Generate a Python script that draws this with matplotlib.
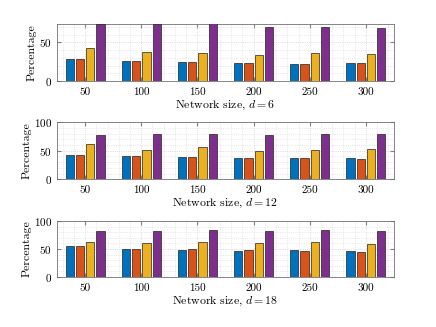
import numpy as np
import matplotlib
matplotlib.use('Agg')
from matplotlib import pyplot as plot
from matplotlib.ticker import MultipleLocator

plot.rcParams['font.family'] = 'serif'
plot.rcParams['font.serif'] = ['cmr10', 'DejaVu Serif']
plot.rcParams['mathtext.fontset'] = 'cm'
plot.rcParams['axes.formatter.use_mathtext'] = True

sizes = ['50', '100', '150', '200', '250', '300']
degrees = [6, 12, 18]

# d = 6
s1_d6 = [28.8, 25.8, 24.5, 22.8, 22.4, 22.8]
s2_d6 = [28.8, 25.8, 24.5, 22.8, 22.4, 22.8]
s3_d6 = [42.2, 37.9, 35.7, 33.2, 35.7, 34.4]
s4_d6 = [73.5, 73.5, 75.0, 70.6, 70.6, 69.3]

# d = 12
s1_d12 = [42.1, 40.4, 39.2, 36.8, 37.4, 36.8]
s2_d12 = [42.1, 40.4, 39.8, 36.8, 38.0, 36.3]
s3_d12 = [61.4, 51.5, 56.7, 49.7, 52.0, 52.6]
s4_d12 = [77.8, 79.5, 79.5, 77.8, 79.0, 79.5]

# d = 18
s1_d18 = [55.4, 49.4, 48.8, 46.4, 47.6, 45.8]
s2_d18 = [55.4, 49.4, 49.4, 47.6, 47.0, 44.0]
s3_d18 = [62.5, 60.7, 61.9, 60.1, 61.9, 58.9]
s4_d18 = [81.5, 82.1, 83.3, 81.5, 83.3, 81.5]

ylims = [73.5, 100, 100]
colors = ['#0072BD', '#D95319', '#EDB120', '#7E2F8E']

panels = [
    [s1_d6, s2_d6, s3_d6, s4_d6],
    [s1_d12, s2_d12, s3_d12, s4_d12],
    [s1_d18, s2_d18, s3_d18, s4_d18],
]

W, H = 436, 327
fig = plot.figure(figsize=(W / 100, H / 100), dpi=100)

# axes boxes in pixels: (top, bottom)
boxes = [(24.3, 81.0), (122.3, 179.3), (221.0, 277.0)]
left, right = 57, 394

x = np.arange(1, len(sizes) + 1)
pitch = 0.183
width = 0.148
offsets = (np.arange(4) - 1.5) * pitch

for k, (top, bot) in enumerate(boxes):
    ax = fig.add_axes([left / W, 1 - bot / H, (right - left) / W, (bot - top) / H])
    for j, series in enumerate(panels[k]):
        ax.bar(x + offsets[j], series, width=width, color=colors[j],
               edgecolor='#222222', linewidth=0.5, zorder=3)
    ax.set_xlim(0.5, 6.5)
    ax.set_ylim(0, ylims[k])
    ax.set_xticks(x)
    ax.set_xticklabels(sizes)
    ax.yaxis.set_major_locator(MultipleLocator(50))
    ax.yaxis.set_minor_locator(MultipleLocator(10))
    ax.xaxis.set_minor_locator(MultipleLocator(0.2))
    ax.grid(which='major', color='#d0d0d0', linestyle=':', linewidth=0.6, zorder=0)
    ax.grid(which='minor', color='#d8d8d8', linestyle=':', linewidth=0.5, zorder=0)
    ax.set_axisbelow(True)
    ax.tick_params(which='major', direction='in', top=True, right=True, length=3,
                   color='#808080', labelsize=8)
    ax.tick_params(axis='x', which='major', pad=4.5)
    ax.tick_params(axis='y', which='major', pad=3.5)
    ax.tick_params(which='minor', length=0)
    for sp in ax.spines.values():
        sp.set_color('#707070')
        sp.set_linewidth(0.6)
    ax.set_ylabel('Percentage', fontsize=8.5, labelpad=2)
    ax.set_xlabel(r'Network size, $d = %d$' % degrees[k], fontsize=8.5, labelpad=1.5)

fig.savefig('out.png', dpi=100)
